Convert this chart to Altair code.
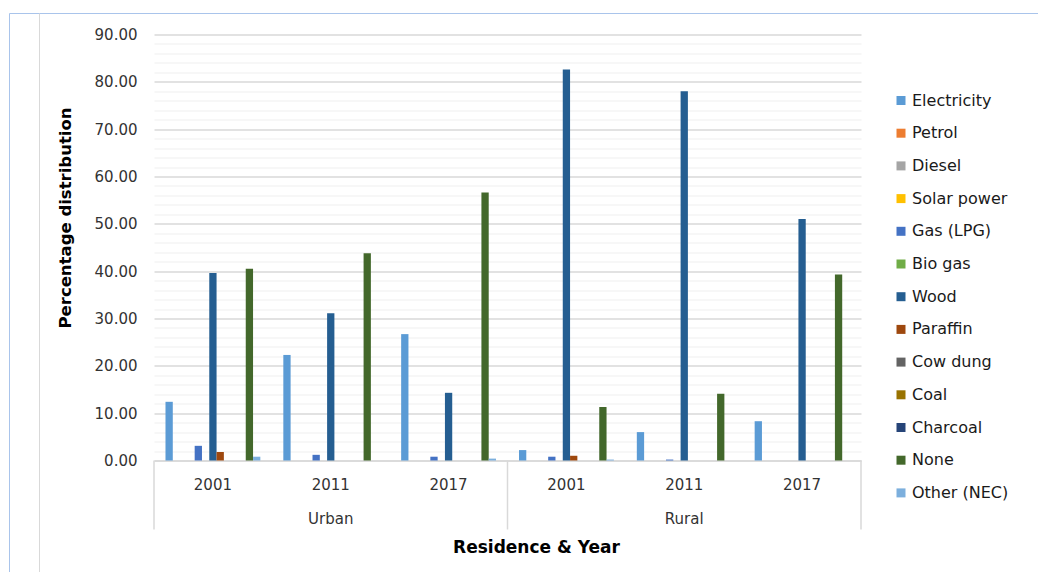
import altair as alt
import pandas as pd

# Residence / year groups along the x axis
groups = ["Urban 2001", "Urban 2011", "Urban 2017", "Rural 2001", "Rural 2011", "Rural 2017"]

# Cooking fuel series, in legend order
series = ["Electricity", "Petrol", "Diesel", "Solar power", "Gas (LPG)", "Bio gas", "Wood",
          "Paraffin", "Cow dung", "Coal", "Charcoal", "None", "Other (NEC)"]
colors = ["#5B9BD5", "#ED7D31", "#A5A5A5", "#FFC000", "#4472C4", "#70AD47", "#255E91",
          "#9E480E", "#636363", "#997300", "#264478", "#43682B", "#7CAFDD"]

# Percentage distribution per series, one value per group
electricity = [12.4, 22.3, 26.7, 2.2, 6.0, 8.3]
petrol = [0.0, 0.0, 0.0, 0.0, 0.0, 0.0]
diesel = [0.0, 0.0, 0.0, 0.0, 0.0, 0.0]
solar_power = [0.0, 0.0, 0.0, 0.0, 0.0, 0.0]
gas_lpg = [3.1, 1.2, 0.8, 0.8, 0.2, 0.0]
bio_gas = [0.0, 0.0, 0.0, 0.0, 0.0, 0.0]
wood = [39.6, 31.1, 14.3, 82.6, 78.0, 51.0]
paraffin = [1.8, 0.0, 0.0, 1.0, 0.0, 0.0]
cow_dung = [0.0, 0.0, 0.0, 0.0, 0.0, 0.0]
coal = [0.0, 0.0, 0.0, 0.0, 0.0, 0.0]
charcoal = [0.0, 0.0, 0.0, 0.0, 0.0, 0.0]
none_ = [40.5, 43.8, 56.6, 11.3, 14.1, 39.3]
other_nec = [0.8, 0.0, 0.4, 0.2, 0.0, 0.0]

values = [electricity, petrol, diesel, solar_power, gas_lpg, bio_gas, wood,
          paraffin, cow_dung, coal, charcoal, none_, other_nec]

rows = []
for name, vals in zip(series, values):
    for g, v in zip(groups, vals):
        rows.append({"group": g, "series": name, "value": v})
df = pd.DataFrame(rows)

FONT = "DejaVu Sans"

# Gap between clusters: inner padding, half of it on the outer ends
PAD_IN = 0.195
x_scale = alt.Scale(domain=groups, paddingInner=PAD_IN, paddingOuter=PAD_IN / 2)

major = "datum.value % 10 === 0"
bars = alt.Chart(df).mark_bar().encode(
    x=alt.X("group:N", scale=x_scale, sort=groups,
            axis=alt.Axis(title="Residence & Year", labelExpr="split(datum.label, ' ')[1]",
                          labelAngle=0, labelFontSize=15, labelColor="#333333", labelFont=FONT,
                          labelBaseline="middle", labelPadding=24, ticks=False,
                          domainColor="#d9d9d9", domainWidth=1.5,
                          titleFontSize=17, titleFontWeight="bold", titleFont=FONT,
                          titleColor="#000000", titleX=382, titleY=87,
                          titleBaseline="middle", titleAlign="center")),
    xOffset=alt.XOffset("series:N", sort=series,
                        scale=alt.Scale(domain=series, paddingOuter=0, paddingInner=0)),
    y=alt.Y("value:Q", scale=alt.Scale(domain=[0, 90], nice=False),
            axis=alt.Axis(values=list(range(0, 91, 2)),
                          labelExpr=f"{major} ? format(datum.value, '.2f') : ''",
                          labelFontSize=15, labelColor="#333333", labelFont=FONT,
                          labelPadding=17, ticks=False, domain=False,
                          gridColor={"condition": {"test": major, "value": "#d9d9d9"},
                                     "value": "#f0f0f0"},
                          gridWidth={"condition": {"test": major, "value": 1.6},
                                     "value": 1.2},
                          title="Percentage distribution", titleFontSize=16.5,
                          titleFontWeight="bold", titleFont=FONT, titleColor="#000000",
                          titleAngle=270, titleX=-89, titleY=183, titleAlign="center",
                          titleBaseline="middle")),
    color=alt.Color("series:N", sort=series,
                    scale=alt.Scale(domain=series, range=colors),
                    legend=alt.Legend(title=None, orient="none", legendX=739, legendY=58,
                                      symbolType="square", symbolSize=81,
                                      symbolStrokeWidth=0, labelFontSize=16,
                                      labelFont=FONT, labelColor="#1a1a1a",
                                      labelOffset=3, rowPadding=16.7, padding=0,
                                      labelLimit=200)),
)

# Residence spans on a 0..6 cluster-slot scale: separators at the edges, names centred
slot = alt.Scale(domain=[0, 6], nice=False, zero=False)
res_df = pd.DataFrame({"pos": [1.5, 4.5], "residence": ["Urban", "Rural"]})
res_text = alt.Chart(res_df).mark_text(fontSize=15, font=FONT, color="#333333",
                                       baseline="middle").encode(
    x=alt.X("pos:Q", scale=slot, axis=None),
    y=alt.value(484),
    text="residence:N",
)
sep_df = pd.DataFrame({"pos": [0, 3, 6]})
seps = alt.Chart(sep_df).mark_rule(color="#d9d9d9", strokeWidth=1.5).encode(
    x=alt.X("pos:Q", scale=slot, axis=None),
    y=alt.value(426), y2=alt.value(495),
)

# Surrounding frame lines
frame_df = pd.DataFrame({"k": [0]})
frame_top = alt.Chart(frame_df).mark_rule(color="#a9c4eb", strokeWidth=1).encode(
    x=alt.value(-144.5), x2=alt.value(884), y=alt.value(-21), y2=alt.value(-21))
frame_left = alt.Chart(frame_df).mark_rule(color="#a9c4eb", strokeWidth=1).encode(
    x=alt.value(-144.5), x2=alt.value(-144.5), y=alt.value(-21), y2=alt.value(540))
frame_inner = alt.Chart(frame_df).mark_rule(color="#d9d9d9", strokeWidth=1).encode(
    x=alt.value(-114.5), x2=alt.value(-114.5), y=alt.value(-21), y2=alt.value(540))

chart = alt.layer(bars, res_text, seps, frame_top, frame_left, frame_inner).resolve_scale(
    x="independent"
).properties(
    width=707, height=426,
    autosize=alt.AutoSizeParams(type="none"),
    padding={"left": 154, "top": 34.5, "right": 177, "bottom": 111.5},
    background="white",
).configure_view(stroke=None)

chart.save("out.html", embed_options={"renderer": "svg", "actions": False})
